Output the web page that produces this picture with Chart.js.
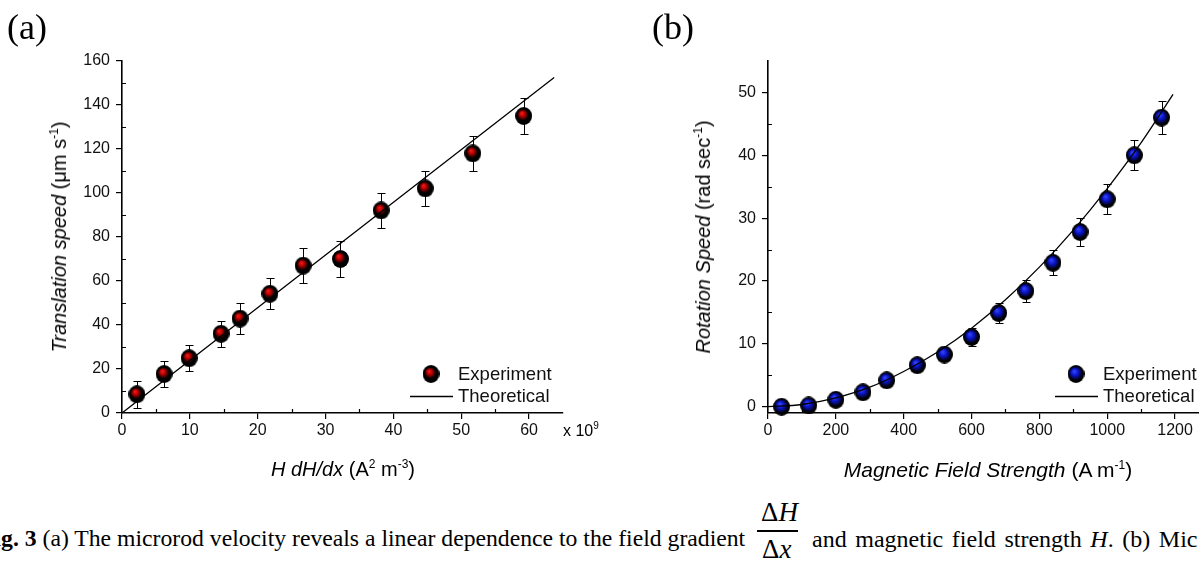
<!DOCTYPE html>
<html>
<head>
<meta charset="utf-8">
<script src="https://cdn.jsdelivr.net/npm/chart.js@4.4.0/dist/chart.umd.min.js"></script>
<style>
  html, body { margin: 0; padding: 0; background: #fff; width: 1199px; height: 573px; overflow: hidden; position: relative; }
  canvas { position: absolute; top: 0; }
  .abs { position: absolute; white-space: nowrap; line-height: 1; color: #000; }
  .sans { font-family: 'Liberation Sans', Arial, sans-serif; }
  .serif { font-family: 'Liberation Serif', 'Times New Roman', serif; }
  .title { font-size: 20px; transform: translate(-50%, -50%); }
  .ytitle { font-size: 20px; transform: translate(-50%, -50%) rotate(-90deg); }
  .sup { font-size: 12px; position: relative; top: -8px; }
  .panel { font-size: 36px; }
  .cap { font-size: 24px; }
  .frac { font-size: 27px; }
</style>
</head>
<body>
<canvas id="chartA" width="600" height="480" style="left:0"></canvas>
<canvas id="chartB" width="640" height="480" style="left:600px"></canvas>

<div class="abs serif panel" style="left:7px;top:9px">(a)</div>
<div class="abs serif panel" style="left:652px;top:9px">(b)</div>

<div class="abs sans" style="left:563px;top:423px;font-size:16px">x 10<span class="sup" style="font-size:10px;top:-7px">9</span></div>

<div class="abs sans title" style="left:343px;top:469px"><i>H dH/dx</i> (A<span class="sup">2</span> m<span class="sup">-3</span>)</div>
<div class="abs sans ytitle" style="left:59px;top:237px"><i>Translation speed</i> (μm s<span class="sup">-1</span>)</div>
<div class="abs sans title" style="left:988px;top:469px;font-size:21px"><i>Magnetic Field Strength</i> (A m<span class="sup">-1</span>)</div>
<div class="abs sans ytitle" style="left:703px;top:237px"><i>Rotation Speed</i> (rad sec<span class="sup">-1</span>)</div>

<div class="abs serif cap" style="left:-20px;top:527px;font-size:23.7px"><b>Fig. 3</b> (a) The microrod velocity reveals a linear dependence to the field gradient</div>
<div class="abs serif frac" style="left:761px;top:499px">Δ<i>H</i></div>
<div class="abs" style="left:757px;top:530px;width:41px;height:1.5px;background:#000"></div>
<div class="abs serif frac" style="left:762px;top:536px">Δ<i>x</i></div>
<div class="abs serif cap" style="left:812px;top:527px;word-spacing:2.6px">and magnetic field strength <i>H</i>. (b) Mic</div>

<script>
// (a) translation speed vs H dH/dx (x 10^9)
const aX = [2.2, 6.2, 9.9, 14.6, 17.4, 21.8, 26.7, 32.2, 38.2, 44.7, 51.7, 59.2];
const aY = [8.5, 17.7, 24.9, 36.0, 42.9, 54.2, 67.0, 70.0, 92.1, 102.1, 118.0, 135.0];
const aErr = [6, 6, 6, 6, 7, 7, 8, 8, 8, 8, 8, 8];
const aLineX = [0, 63.7];
const aLineY = [0, 152.5];
const aXTicks = [0, 10, 20, 30, 40, 50, 60];
const aYTicks = [0, 20, 40, 60, 80, 100, 120, 140, 160];
const aXMinor = [5, 15, 25, 35, 45, 55];
const aYMinor = [10, 30, 50, 70, 90, 110, 130, 150];

// (b) rotation speed vs magnetic field strength
const bX = [40, 120, 200, 280, 350, 440, 520, 600, 680, 760, 840, 920, 1000, 1080, 1160];
const bY = [0, 0.2, 1.1, 2.3, 4.2, 6.6, 8.3, 11.1, 14.9, 18.4, 22.9, 27.8, 33.0, 40.0, 46.0];
const bErr = [0.2, 0.3, 0.4, 0.5, 0.6, 0.8, 1.1, 1.4, 1.6, 1.8, 2.0, 2.2, 2.4, 2.4, 2.6];
const bLineX = [0, 100, 200, 300, 400, 500, 600, 700, 800, 900, 1000, 1100, 1194];
const bLineY = [0, 0.35, 1.4, 3.1, 5.6, 8.7, 12.5, 17.0, 22.2, 28.1, 34.7, 42.0, 49.7];
const bXTicks = [0, 200, 400, 600, 800, 1000, 1200];
const bYTicks = [0, 10, 20, 30, 40, 50];
const bXMinor = [100, 300, 500, 700, 900, 1100, 1300];
const bYMinor = [5, 15, 25, 35, 45];

const legendLabels = ['Experiment', 'Theoretical'];

Chart.defaults.font.family = "'Liberation Sans', Arial, sans-serif";
Chart.defaults.color = '#111';

function makeBall(core, mid, spread) {
  const c = document.createElement('canvas');
  c.width = 17; c.height = 18;
  const g = c.getContext('2d');
  const grd = g.createRadialGradient(6.5, 6, 0, 8.5, 9, 9);
  grd.addColorStop(0, core);
  grd.addColorStop(spread * 0.5, mid);
  grd.addColorStop(spread, '#000');
  grd.addColorStop(1, '#000');
  g.fillStyle = grd;
  g.beginPath();
  g.ellipse(8.5, 9, 8.5, 9, 0, 0, Math.PI * 2);
  g.fill();
  return c;
}
const redBall = makeBall('#ff2020', '#b00000', 0.62);
const blueBall = makeBall('#3a4dff', '#0a14c8', 0.78);

function pts(xs, ys) { return xs.map((x, i) => ({ x: x, y: ys[i] })); }

const errBars = {
  id: 'errBars',
  beforeDatasetsDraw(chart) {
    const ds = chart.data.datasets[1];
    const { ctx, scales: { x, y } } = chart;
    ctx.save();
    ctx.strokeStyle = '#000';
    ctx.lineWidth = 1;
    ds.data.forEach((p, i) => {
      const e = ds.errs[i];
      const px = Math.round(x.getPixelForValue(p.x)) + 0.5;
      const t = Math.round(y.getPixelForValue(p.y + e)) + 0.5;
      const b = Math.round(y.getPixelForValue(p.y - e)) + 0.5;
      ctx.beginPath();
      ctx.moveTo(px, t); ctx.lineTo(px, b);
      ctx.moveTo(px - 4, t); ctx.lineTo(px + 4, t);
      ctx.moveTo(px - 4, b); ctx.lineTo(px + 4, b);
      ctx.stroke();
    });
    ctx.restore();
  }
};

function minorTicks(xs, ys) {
  return {
    id: 'minorTicks',
    afterDraw(chart) {
      const { ctx, chartArea: a, scales: { x, y } } = chart;
      ctx.save();
      ctx.strokeStyle = '#000';
      ctx.lineWidth = 1.2;
      ctx.beginPath();
      xs.forEach(v => {
        const px = Math.round(x.getPixelForValue(v)) + 0.5;
        ctx.moveTo(px, a.bottom); ctx.lineTo(px, a.bottom - 4);
      });
      ys.forEach(v => {
        const py = Math.round(y.getPixelForValue(v)) + 0.5;
        ctx.moveTo(a.left, py); ctx.lineTo(a.left + 4, py);
      });
      ctx.stroke();
      ctx.restore();
    }
  };
}

// legend box: text start x, first row y (canvas coordinates)
function legendBox(tx, ty, ball) {
  return {
    id: 'legendBox',
    afterDraw(chart) {
      const ctx = chart.ctx;
      ctx.save();
      ctx.drawImage(ball, tx - 27 - 8.5, ty - 9);
      ctx.strokeStyle = '#000';
      ctx.lineWidth = 1.3;
      ctx.beginPath();
      ctx.moveTo(tx - 48, ty + 22.5); ctx.lineTo(tx - 5, ty + 22.5);
      ctx.stroke();
      ctx.fillStyle = '#111';
      ctx.font = "18.5px 'Liberation Sans', Arial, sans-serif";
      ctx.textBaseline = 'middle';
      ctx.fillText(legendLabels[0], tx, ty + 1);
      ctx.fillText(legendLabels[1], tx, ty + 23);
      ctx.restore();
    }
  };
}

function axis(min, max, ticks, fitProp, fitVal, pad) {
  return {
    type: 'linear', min: min, max: max,
    afterBuildTicks: s => { s.ticks = ticks.map(v => ({ value: v })); },
    afterFit: s => { s[fitProp] = fitVal; },
    grid: { drawOnChartArea: false, drawTicks: true, tickLength: 6, color: '#000', lineWidth: 1.2 },
    border: { display: true, color: '#000', width: 1.6 },
    ticks: { font: { size: 16 }, padding: pad, maxRotation: 0, autoSkip: false, color: '#111',
             callback: v => String(v) }
  };
}

function build(id, sx, line, err, ball, o) {
  return new Chart(document.getElementById(id), {
    type: 'scatter',
    data: {
      datasets: [
        { label: legendLabels[1], data: line, showLine: true, borderColor: '#000', borderWidth: 1.3,
          pointRadius: 0, fill: false, tension: 0.35, clip: false, order: 0 },
        { label: legendLabels[0], data: sx, errs: err, pointStyle: ball, pointRadius: 9,
          clip: false, order: 1 }
      ]
    },
    options: {
      responsive: false,
      animation: false,
      devicePixelRatio: 1,
      layout: { padding: o.padding },
      plugins: { legend: { display: false }, tooltip: { enabled: false } },
      scales: { x: o.x, y: o.y }
    },
    plugins: [errBars, minorTicks(o.xMinor, o.yMinor), legendBox(o.legX, o.legY, ball)]
  });
}

build('chartA', pts(aX, aY), pts(aLineX, aLineY), aErr, redBall, {
  padding: { left: 62, top: 61, right: 37, bottom: 37 },
  x: axis(0, 65, aXTicks, 'height', 30, 2),
  y: axis(0, 160, aYTicks, 'width', 60, 6),
  xMinor: aXMinor, yMinor: aYMinor,
  legX: 458, legY: 374
});

build('chartB', pts(bX, bY), pts(bLineX, bLineY), bErr, blueBall, {
  padding: { left: 108, top: 61, right: 31, bottom: 37 },
  x: axis(0, 1300, bXTicks, 'height', 30, 2),
  y: axis(-1, 55, bYTicks, 'width', 60, 6),
  xMinor: bXMinor, yMinor: bYMinor,
  legX: 503, legY: 374
});
</script>
</body>
</html>
